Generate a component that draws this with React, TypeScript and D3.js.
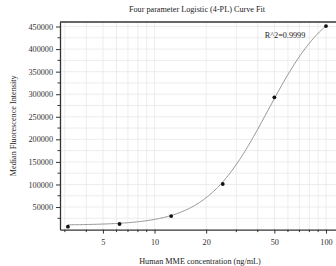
import React, { useEffect, useRef } from "react";
import * as d3 from "d3";

// standards (ng/mL) and measured MFI
const concentrations = [3.125, 6.25, 12.5, 25, 50, 100];
const intensities = [6400, 12400, 30000, 101000, 293000, 451000];

// 4PL fit parameters: [A (bottom), B (slope), C (EC50), D (top)]
const fitParams = [9800, 2.4, 46, 520000];
const rSquared = "0.9999";

const xDomain = [2.81, 120.7];
const yDomain = [0, 460000];
const xTickLabels = [5, 10, 20, 50, 100];
const xGridTicks = [3, 4, 5, 6, 7, 8, 9, 10, 20, 30, 40, 50, 60, 70, 80, 90, 100];

export default function App() {
  const svgRef = useRef<SVGSVGElement>(null);

  useEffect(() => {
    const width = 336;
    const height = 266;
    const margin = { top: 22, right: -4, bottom: 36.4, left: 60 };
    const font = "'Liberation Serif', 'Times New Roman', serif";
    const fs = 8.2;

    const svg = d3.select(svgRef.current).attr("width", width).attr("height", height);
    svg.selectAll("*").remove();

    const x = d3
      .scaleLog()
      .domain(xDomain)
      .range([margin.left, width - margin.right]);
    const y = d3
      .scaleLinear()
      .domain(yDomain)
      .range([height - margin.bottom, margin.top]);

    const yMinor = d3.range(25000, 460000, 25000);

    // grid
    const grid = svg.append("g").attr("stroke", "#e9e9e9").attr("stroke-width", 0.8);
    grid
      .selectAll("line.v")
      .data(xGridTicks)
      .enter()
      .append("line")
      .attr("x1", (d) => x(d))
      .attr("x2", (d) => x(d))
      .attr("y1", y(yDomain[0]))
      .attr("y2", y(yDomain[1]));
    grid
      .selectAll("line.h")
      .data(yMinor)
      .enter()
      .append("line")
      .attr("x1", x(xDomain[0]))
      .attr("x2", x(xDomain[1]))
      .attr("y1", (d) => y(d))
      .attr("y2", (d) => y(d));

    // fitted curve
    const [A, B, C, D] = fitParams;
    const fit = (c: number) => D + (A - D) / (1 + Math.pow(c / C, B));
    const curveX = d3.range(0, 201).map((i) => {
      const lo = Math.log10(concentrations[0]);
      const hi = Math.log10(concentrations[concentrations.length - 1]);
      return Math.pow(10, lo + ((hi - lo) * i) / 200);
    });
    const line = d3
      .line<number>()
      .x((d) => x(d))
      .y((d) => y(fit(d)));
    svg
      .append("path")
      .datum(curveX)
      .attr("d", line)
      .attr("fill", "none")
      .attr("stroke", "#8a8a8a")
      .attr("stroke-width", 0.9);

    // points
    svg
      .selectAll("circle.pt")
      .data(concentrations)
      .enter()
      .append("circle")
      .attr("cx", (d) => x(d))
      .attr("cy", (d, i) => y(intensities[i]))
      .attr("r", 1.9)
      .attr("fill", "#111");

    // axes
    const axisColor = "#333";
    const yAxis = svg
      .append("g")
      .attr("transform", `translate(${margin.left},0)`)
      .call(
        d3
          .axisLeft(y)
          .tickValues(d3.range(50000, 460000, 50000))
          .tickSize(4)
          .tickSizeOuter(0)
          .tickFormat((d) => String(d))
      );
    yAxis.select(".domain").attr("stroke", axisColor).attr("stroke-width", 1.3);
    yAxis.selectAll(".tick line").attr("stroke", axisColor);
    yAxis
      .selectAll(".tick text")
      .attr("font-family", font)
      .attr("font-size", fs)
      .attr("fill", "#333");
    yAxis
      .selectAll("line.minor")
      .data(yMinor.filter((d) => d % 50000 !== 0))
      .enter()
      .append("line")
      .attr("x1", -2.5)
      .attr("x2", 0)
      .attr("y1", (d) => y(d))
      .attr("y2", (d) => y(d))
      .attr("stroke", axisColor);

    const xAxis = svg
      .append("g")
      .attr("transform", `translate(0,${height - margin.bottom})`)
      .call(
        d3
          .axisBottom(x)
          .tickValues(xTickLabels)
          .tickSize(4)
          .tickSizeOuter(0)
          .tickPadding(6)
          .tickFormat((d) => String(d))
      );
    xAxis.select(".domain").attr("stroke", axisColor).attr("stroke-width", 1.3);
    xAxis.selectAll(".tick line").attr("stroke", axisColor);
    xAxis
      .selectAll(".tick text")
      .attr("font-family", font)
      .attr("font-size", fs)
      .attr("fill", "#333");
    xAxis
      .selectAll("line.minor")
      .data(xGridTicks.filter((d) => !xTickLabels.includes(d)))
      .enter()
      .append("line")
      .attr("x1", (d) => x(d))
      .attr("x2", (d) => x(d))
      .attr("y1", 0)
      .attr("y2", 2.5)
      .attr("stroke", axisColor);

    // top border
    svg
      .append("line")
      .attr("x1", margin.left)
      .attr("x2", width)
      .attr("y1", margin.top)
      .attr("y2", margin.top)
      .attr("stroke", axisColor)
      .attr("stroke-width", 1.3);

    // texts
    svg
      .append("text")
      .attr("x", 197)
      .attr("y", 12)
      .attr("text-anchor", "middle")
      .attr("font-family", font)
      .attr("font-size", fs)
      .attr("fill", "#222")
      .text("Four parameter Logistic (4-PL) Curve Fit");

    svg
      .append("text")
      .attr("x", 285)
      .attr("y", 38)
      .attr("text-anchor", "middle")
      .attr("font-family", font)
      .attr("font-size", fs)
      .attr("fill", "#222")
      .text(`R^2=${rSquared}`);

    svg
      .append("text")
      .attr("x", 200)
      .attr("y", 264)
      .attr("text-anchor", "middle")
      .attr("font-family", font)
      .attr("font-size", fs)
      .attr("fill", "#222")
      .text("Human MME concentration (ng/mL)");

    svg
      .append("text")
      .attr("transform", `translate(16,${(margin.top + height - margin.bottom) / 2}) rotate(-90)`)
      .attr("text-anchor", "middle")
      .attr("font-family", font)
      .attr("font-size", fs)
      .attr("fill", "#222")
      .text("Median Fluorescence Intensity");
  }, []);

  return (
    <div style={{ position: "absolute", left: 0, top: 0 }}>
      <svg ref={svgRef} style={{ display: "block" }}></svg>
    </div>
  );
}
